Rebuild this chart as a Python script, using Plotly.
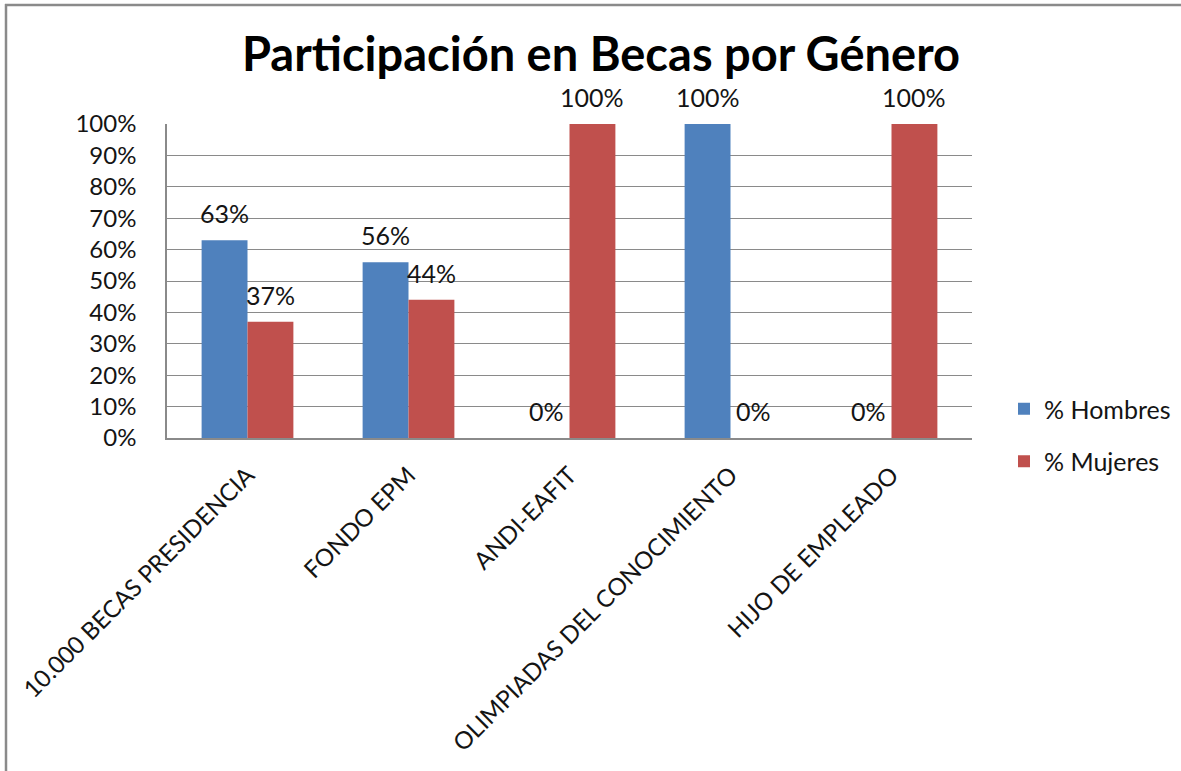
import plotly.graph_objects as go

categories = ["10.000 BECAS PRESIDENCIA", "FONDO EPM", "ANDI-EAFIT",
              "OLIMPIADAS DEL CONOCIMIENTO", "HIJO DE EMPLEADO"]
hombres = [0.63, 0.56, 0.0, 1.0, 0.0]
mujeres = [0.37, 0.44, 1.0, 0.0, 1.0]
series_names = ["% Hombres", "% Mujeres"]
colors = ["#4F81BD", "#C0504D"]

W, H = 1181, 771
ML, MR, MT, MB = 167, 209, 124, 333
FONT = "Lato"
TXT = "#141414"

fig = go.Figure()
for name, vals, col in zip(series_names, [hombres, mujeres], colors):
    fig.add_trace(go.Bar(x=categories, y=vals, name=name, marker_color=col,
                         marker_line_width=0, legendgroup=name))

plot_w = W - ML - MR
cat_w = plot_w / len(categories)
bargap = 0.43
bar_w = cat_w * (1 - bargap) / 2

annotations = []
for i, vals in enumerate([hombres, mujeres]):
    shift = (-0.5 if i == 0 else 0.5) * bar_w
    for c, v in zip(categories, vals):
        annotations.append(dict(x=c, y=v, xref="x", yref="y", text=f"{round(v*100)}%",
                                showarrow=False, xshift=shift, yshift=27,
                                font=dict(family=FONT, size=25, color=TXT)))

def px_x(p):
    return (p - ML) / plot_w

def px_y(p):
    return 1 - (p - MT) / (H - MT - MB)

shapes = [
    dict(type="line", xref="paper", yref="paper", x0=px_x(5), x1=px_x(W),
         y0=px_y(5), y1=px_y(5), line=dict(color="#8a8a8a", width=2.5)),
    dict(type="line", xref="paper", yref="paper", x0=px_x(6), x1=px_x(6),
         y0=px_y(4), y1=px_y(H), line=dict(color="#8a8a8a", width=2.5)),
]

fig.update_layout(
    width=W, height=H,
    margin=dict(l=ML, r=MR, t=MT, b=MB, autoexpand=False),
    paper_bgcolor="white", plot_bgcolor="white",
    barmode="group", bargap=bargap, bargroupgap=0,
    title=dict(text="<b>Participación en Becas por Género</b>",
               font=dict(family=FONT, size=47, color="#000000"),
               x=px_x(601), xanchor="center", xref="paper", y=1 - 55 / H, yanchor="middle"),
    font=dict(family=FONT, size=24, color=TXT),
    xaxis=dict(tickangle=-45, showgrid=False, showline=True, linecolor="#8a8a8a",
               linewidth=1.5, ticks="", ticklabelstandoff=12,
               tickfont=dict(family=FONT, size=24, color=TXT)),
    yaxis=dict(range=[0, 1], dtick=0.1, tickformat=".0%", showgrid=True,
               gridcolor="#8a8a8a", gridwidth=1.2, showline=True, linecolor="#8a8a8a",
               linewidth=1.5, zeroline=False, ticks="", ticklabelstandoff=24,
               tickfont=dict(family=FONT, size=24, color=TXT)),
    legend=dict(x=px_x(1004), y=px_y(386), xanchor="left", yanchor="top",
                font=dict(family=FONT, size=25, color=TXT),
                traceorder="grouped", tracegroupgap=17, itemwidth=30,
                bgcolor="rgba(0,0,0,0)"),
    annotations=annotations,
    shapes=shapes,
)

fig.write_html("out.html", config={"displayModeBar": False},
               post_script="document.body.style.margin='0';document.body.style.overflow='hidden';")
